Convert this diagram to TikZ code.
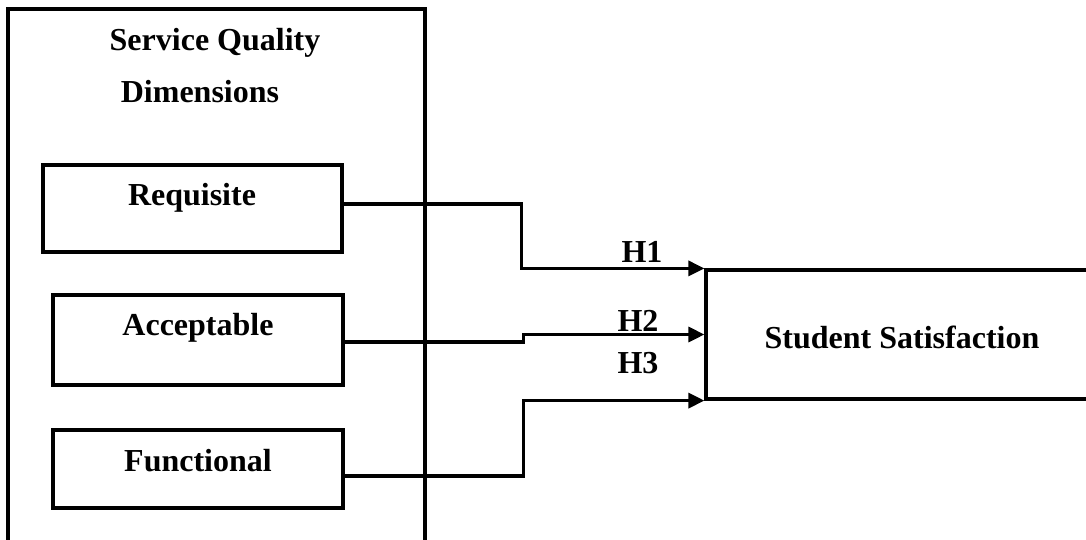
\documentclass[tikz,border=0pt]{standalone}
\usepackage{fontspec}
\setmainfont{Liberation Serif}
\usetikzlibrary{arrows.meta,calc}
\begin{document}
\begin{tikzpicture}[x=1pt,y=-1pt,
  every node/.style={font=\fontsize{32}{38}\selectfont\bfseries, inner sep=0pt},
  box/.style={draw, line width=3.2pt, rectangle},
  lbl/.style={anchor=base},
  conn/.style={line width=3.2pt},
  arr/.style={conn, -{Triangle[length=16pt,width=15pt]}}]
\useasboundingbox (0,0) rectangle (1086,539);
% outer container
\draw[conn] (8,570) -- (8,9) -- (425,9) -- (425,570);
\node[lbl] (t1) at (215,50) {Service Quality};
\node[lbl] (t2) at (200,102) {Dimensions};
% dimension boxes
\node[box, minimum width=299pt, minimum height=87pt] (req) at (192.5,208.5) {};
\node[lbl] (reqt) at (192,205) {Requisite};
\node[box, minimum width=290pt, minimum height=90pt] (acc) at (198,340) {};
\node[lbl] (acct) at (198,335) {Acceptable};
\node[box, minimum width=290pt, minimum height=78pt] (fun) at (198,469) {};
\node[lbl] (funt) at (198,471) {Functional};
% outcome box (extends beyond right edge)
\node[box, minimum width=394pt, minimum height=129pt] (ss) at (903,334.5) {};
\node[lbl] (sst) at (902,348) {Student Satisfaction};
% bend points
\coordinate (k1) at ($(ss.north west)+(-183,0)$);
\coordinate (k2) at ($(ss.west)+(-181,0)$);
\coordinate (k3) at ($(ss.south west)+(-181,0)$);
% connectors
\draw[arr] ([yshift=4.5pt]req.east) -| (k1) -- (ss.north west);
\draw[arr] ([yshift=-2pt]acc.east) -| (k2) -- (ss.west);
\draw[arr] ([yshift=-7pt]fun.east) -| (k3) -- (ss.south west);
% hypothesis labels
\node[lbl] (h1) at (642,262) {H1};
\node[lbl] (h2) at (638,331) {H2};
\node[lbl] (h3) at (638,373) {H3};
\end{tikzpicture}
\end{document}
